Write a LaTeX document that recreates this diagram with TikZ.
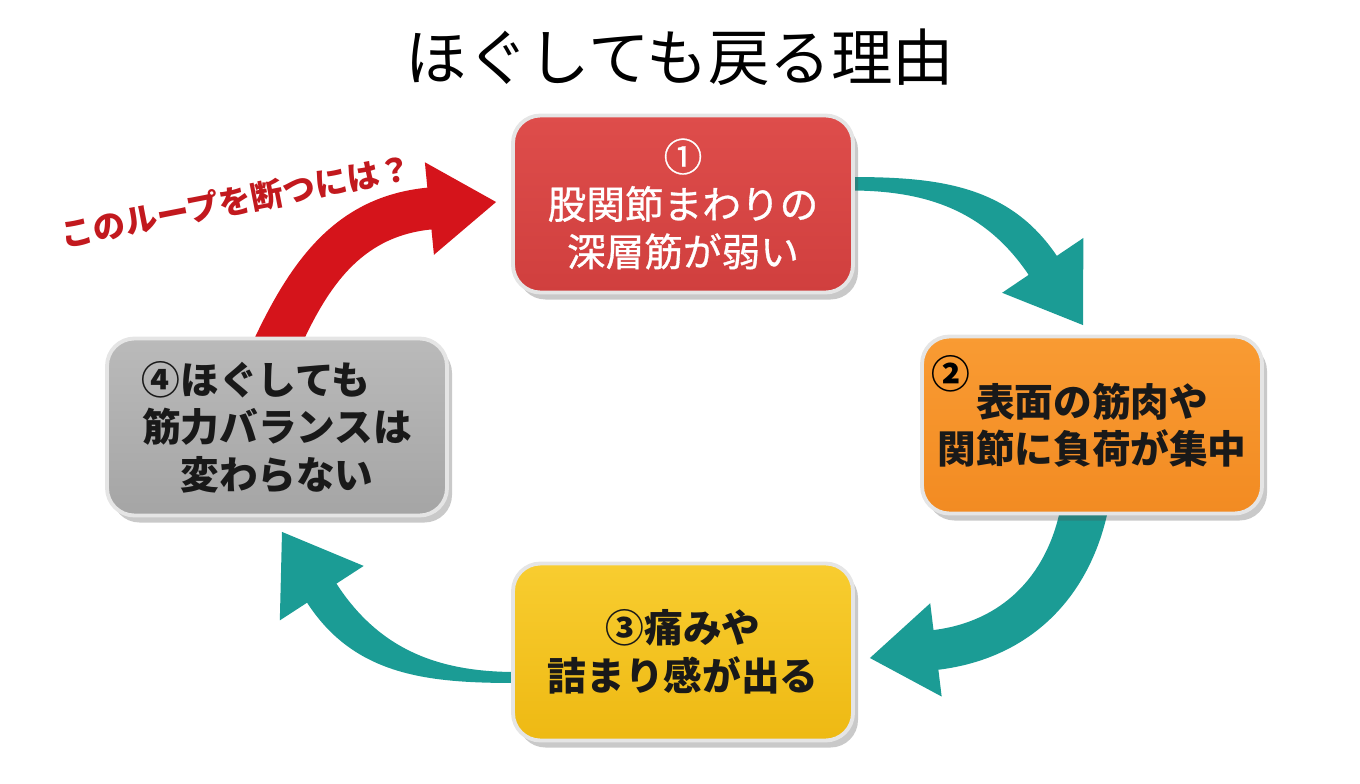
\documentclass[tikz,border=0pt]{standalone}
\usepackage{fontspec}
\setmainfont{Noto Sans CJK JP}
\newfontfamily\sredni{Noto Sans CJK JP}[FakeBold=0.8]
\usepackage{tikz}
\usetikzlibrary{calc,shadows,backgrounds}
\definecolor{czerw}{HTML}{DE4D4B}
\definecolor{czerwD}{HTML}{D03F3E}
\definecolor{pomar}{HTML}{F99B33}
\definecolor{pomarD}{HTML}{F28B22}
\definecolor{zolty}{HTML}{F8CD30}
\definecolor{zoltyD}{HTML}{EEB913}
\definecolor{szary}{HTML}{BABABA}
\definecolor{szaryD}{HTML}{A5A5A5}
\definecolor{morski}{HTML}{1B9C95}
\definecolor{strz}{HTML}{D5141B}
\definecolor{napis}{HTML}{C2191E}

\begin{document}
\begin{tikzpicture}[
  box/.style={draw=black!10, line width=2.2pt, rounded corners=0.55cm,
    minimum width=6.8cm, minimum height=3.54cm, inner sep=0, align=center,
    font=\fontsize{22pt}{27pt}\selectfont\bfseries, text=black!90,
    drop shadow={shadow xshift=0.1cm, shadow yshift=-0.14cm, opacity=0.3, fill=black!70}},
  tl/.style={fill=morski},
]
\useasboundingbox (0,0) rectangle (27.2,-15.68);
% --- tytul ---
\node[font=\fontsize{35pt}{40pt}\selectfont] (tytul) at (13.6,-1.14) {ほぐしても戻る理由};
% ===================== POLA =====================
\node[box, top color=czerw, bottom color=czerwD, text=white, font=\sredni\fontsize{22pt}{27pt}\selectfont]
  (b1) at (13.66,-4.08) {①\\股関節まわりの\\深層筋が弱い};
\node[box, top color=pomar, bottom color=pomarD] (b2) at (21.84,-8.50) {表面の筋肉や\\関節に負荷が集中};
\node[box, top color=zolty, bottom color=zoltyD] (b3) at (13.66,-13.04) {③痛みや\\詰まり感が出る};
\node[box, top color=szary, bottom color=szaryD] (b4) at (5.54,-8.54) {\makebox[7em][l]{④ほぐしても}\\筋力バランスは\\変わらない};
\node[font=\fontsize{22pt}{27pt}\selectfont\bfseries] (n2) at ([shift={(0.62,-0.78)}]b2.north west) {②};
% ===================== STRZALKI =====================
\coordinate (g1) at ([shift={(-0.18,0.19)}]b2.north);
\coordinate (g2) at ([shift={(0.30,-0.12)}]b3.east);
\coordinate (g3) at ([shift={(0.10,-0.29)}]b4.south);
\coordinate (g4) at ([shift={(-0.30,0.04)}]b1.west);
\begin{scope}[on background layer]
% 1 -> 2
\fill[tl] ([shift={(-0.1,0.54)}]b1.east) to[out=0,in=124] ($(g1)+(124:1.44)+(34:0.34)$)
  -- ($(g1)+(124:1.44)+(34:0.98)$) -- (g1) -- ($(g1)+(124:1.44)+(214:0.98)$)
  -- ($(g1)+(124:1.44)+(214:0.34)$) to[out=124,in=0] ([shift={(-0.1,0.27)}]b1.east) -- cycle;
% 2 -> 3
\fill[tl] ([shift={(0.32,0.1)}]b2.south) to[out=-102,in=7] ($(g2)+(7:1.33)+(277:0.40)$)
  -- ($(g2)+(7:1.33)+(277:0.94)$) -- (g2) -- ($(g2)+(7:1.33)+(97:0.94)$)
  -- ($(g2)+(7:1.33)+(97:0.40)$) to[out=7,in=-102] ([shift={(-0.64,0.1)}]b2.south) -- cycle;
% 3 -> 4
\fill[tl] ([shift={(0.1,-0.62)}]b3.west) to[out=180,in=303] ($(g3)+(303:1.46)+(213:0.35)$)
  -- ($(g3)+(303:1.46)+(213:1.0)$) -- (g3) -- ($(g3)+(303:1.46)+(33:1.0)$)
  -- ($(g3)+(303:1.46)+(33:0.35)$) to[out=303,in=180] ([shift={(0.1,-0.40)}]b3.west) -- cycle;
% 4 -> 1 (czerwona)
\fill[strz] ([shift={(-0.48,-0.1)}]b4.north) to[out=65,in=185.6] ($(g4)+(185.6:1.34)+(95.6:0.42)$)
  -- ($(g4)+(185.6:1.34)+(95.6:0.93)$) -- (g4) -- ($(g4)+(185.6:1.34)+(275.6:0.93)$)
  -- ($(g4)+(185.6:1.34)+(275.6:0.42)$) to[out=185.6,in=65] ([shift={(0.52,-0.1)}]b4.north) -- cycle;
\end{scope}
\node[text=napis, rotate=11, font=\fontsize{18.5pt}{22pt}\selectfont\bfseries] (pytanie) at (4.72,-4.02) {このループを断つには？};
\end{tikzpicture}
\end{document}
